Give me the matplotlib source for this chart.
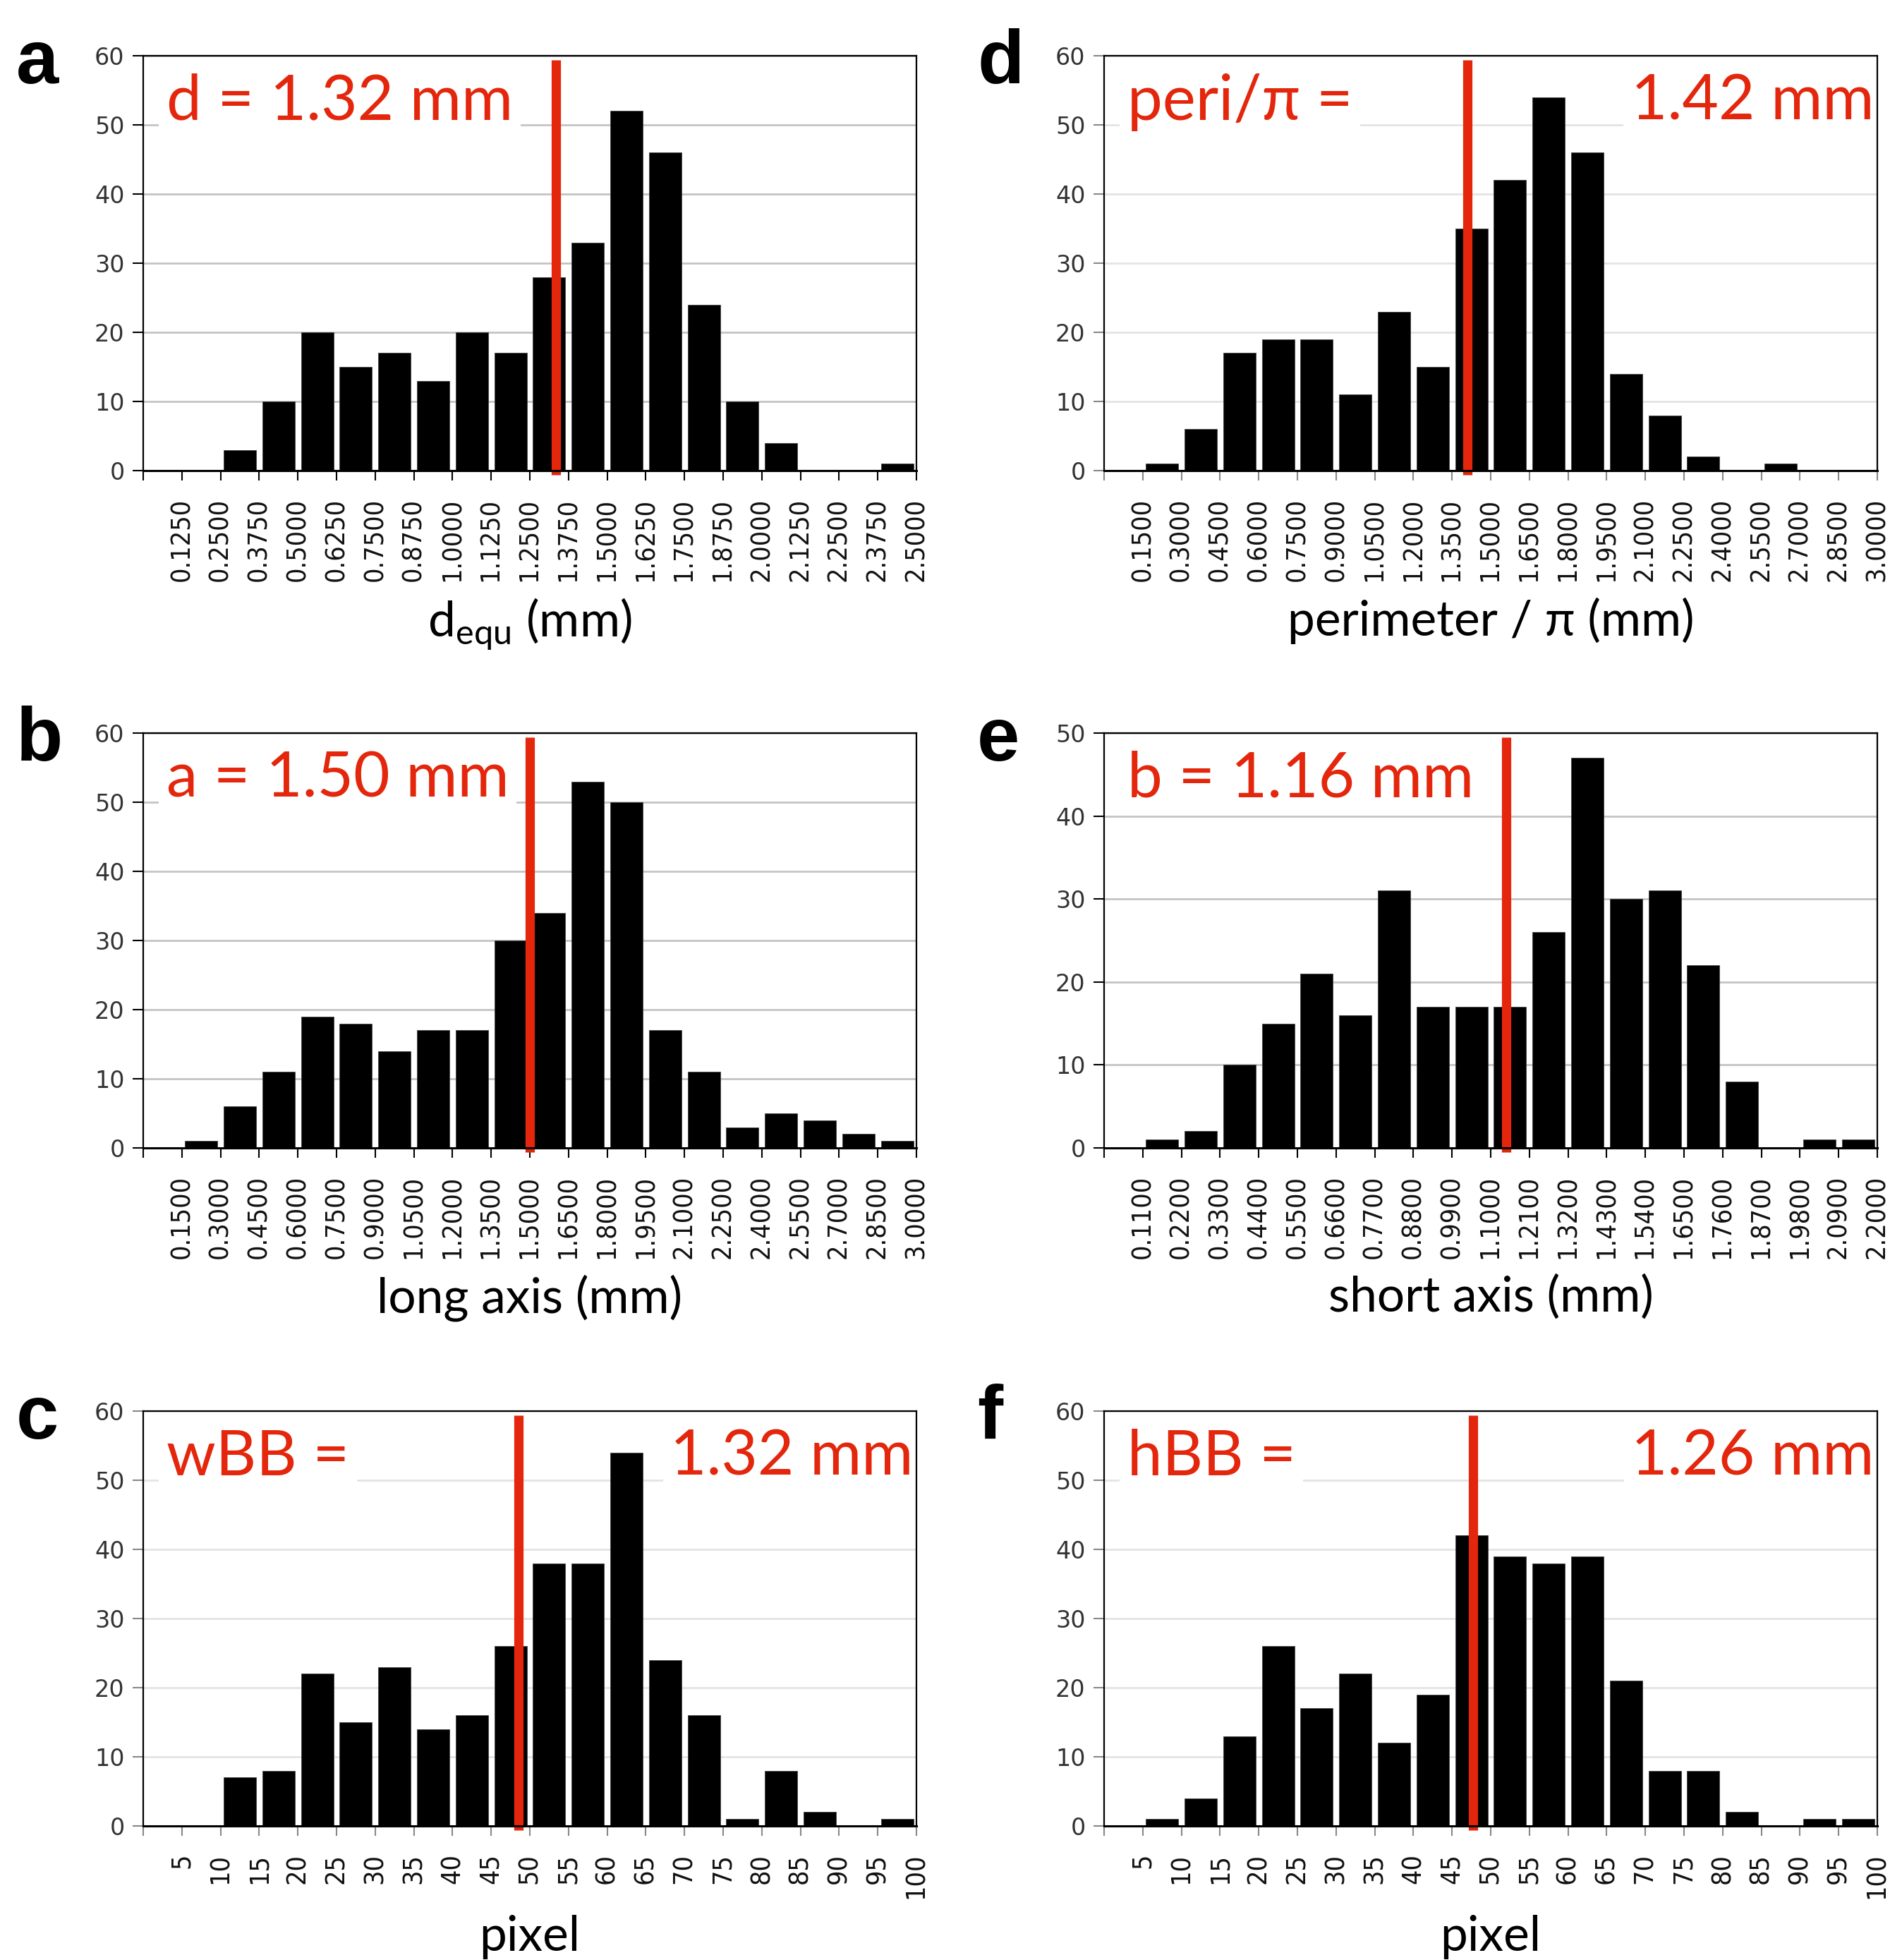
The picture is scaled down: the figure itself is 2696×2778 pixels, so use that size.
import matplotlib
matplotlib.use("Agg")
import matplotlib.pyplot as plt
import numpy as np
from matplotlib.font_manager import FontProperties

plt.rcParams["mathtext.fontset"] = "custom"
plt.rcParams["mathtext.rm"] = "Lato"

# histogram counts, 20 bins per panel
counts_a = [0, 0, 3, 10, 20, 15, 17, 13, 20, 17, 28, 33, 52, 46, 24, 10, 4, 0, 0, 1]
counts_b = [0, 1, 6, 11, 19, 18, 14, 17, 17, 30, 34, 53, 50, 17, 11, 3, 5, 4, 2, 1]
counts_c = [0, 0, 7, 8, 22, 15, 23, 14, 16, 26, 38, 38, 54, 24, 16, 1, 8, 2, 0, 1]
counts_d = [0, 1, 6, 17, 19, 19, 11, 23, 15, 35, 42, 54, 46, 14, 8, 2, 0, 1, 0, 0]
counts_e = [0, 1, 2, 10, 15, 21, 16, 31, 17, 17, 17, 26, 47, 30, 31, 22, 8, 0, 1, 1]
counts_f = [0, 1, 4, 13, 26, 17, 22, 12, 19, 42, 39, 38, 39, 21, 8, 8, 2, 0, 1, 1]

# upper bin edges (tick labels)
edges_a = ["0.1250", "0.2500", "0.3750", "0.5000", "0.6250", "0.7500", "0.8750",
           "1.0000", "1.1250", "1.2500", "1.3750", "1.5000", "1.6250", "1.7500",
           "1.8750", "2.0000", "2.1250", "2.2500", "2.3750", "2.5000"]
edges_bd = ["0.1500", "0.3000", "0.4500", "0.6000", "0.7500", "0.9000", "1.0500",
            "1.2000", "1.3500", "1.5000", "1.6500", "1.8000", "1.9500", "2.1000",
            "2.2500", "2.4000", "2.5500", "2.7000", "2.8500", "3.0000"]
edges_e = ["0.1100", "0.2200", "0.3300", "0.4400", "0.5500", "0.6600", "0.7700",
           "0.8800", "0.9900", "1.1000", "1.2100", "1.3200", "1.4300", "1.5400",
           "1.6500", "1.7600", "1.8700", "1.9800", "2.0900", "2.2000"]
edges_px = ["5", "10", "15", "20", "25", "30", "35", "40", "45", "50",
            "55", "60", "65", "70", "75", "80", "85", "90", "95", "100"]

bin_width = {"a": 0.125, "b": 0.15, "c": 5, "d": 0.15, "e": 0.11, "f": 5}
# position of the red marker line, in axis units (mm or pixel)
mean_line = {"a": 1.335, "b": 1.50, "c": 48.5, "d": 1.41, "e": 1.145, "f": 47.7}

RED = "#e3260c"
W, H = 2696, 2778
col_left = [203, 1565]
row_top = [79, 1039, 2000]
ax_w, ax_h = 1096, 588

panels = [
    ("a", counts_a, edges_a, "d = 1.32 mm", None, r"d$_{\mathrm{equ}}$ (mm)", 60, 0, 0, False),
    ("b", counts_b, edges_bd, "a = 1.50 mm", None, "long axis (mm)", 60, 0, 1, False),
    ("c", counts_c, edges_px, "wBB =", "1.32 mm", "pixel", 60, 0, 2, True),
    ("d", counts_d, edges_bd, "peri/π =", "1.42 mm", "perimeter / π (mm)", 60, 1, 0, True),
    ("e", counts_e, edges_e, "b = 1.16 mm", None, "short axis (mm)", 50, 1, 1, False),
    ("f", counts_f, edges_px, "hBB =", "1.26 mm", "pixel", 60, 1, 2, True),
]

xtick_font = FontProperties(family="DejaVu Sans", stretch="condensed", size=27)

fig = plt.figure(figsize=(W / 100, H / 100), dpi=100)

for letter, counts, edges, ltxt, rtxt, xlabel, ymax, col, row, faint in panels:
    left = col_left[col] / W
    bottom = 1 - (row_top[row] + ax_h) / H
    ax = fig.add_axes([left, bottom, ax_w / W, ax_h / H])
    grid_c = "#e4e4e4" if faint else "#c4c4c4"
    tick_c = "#888888" if faint else "black"

    x = np.arange(len(counts)) + 0.5
    ax.bar(x, counts, width=0.84, color="black", edgecolor="#444444", linewidth=0.6, zorder=2)
    ax.axvline(mean_line[letter] / bin_width[letter], ymin=-0.01, ymax=0.99,
               color=RED, lw=9.5, zorder=4, clip_on=False, solid_capstyle="butt")

    ax.set_xlim(0, len(counts))
    ax.set_ylim(0, ymax)
    ax.set_xticks(np.arange(len(counts) + 1))
    ax.set_xticklabels([""] + edges, rotation=90, fontproperties=xtick_font, color="#111111")
    ax.set_yticks(np.arange(0, ymax + 1, 10))
    ax.set_yticklabels([str(v) for v in range(0, ymax + 1, 10)], fontsize=24,
                       color="#333333", family="DejaVu Sans")
    ax.tick_params(axis="x", length=10, width=1.5, color=tick_c, pad=18)
    ax.tick_params(axis="y", length=11, width=1.5, color=tick_c, pad=8)
    ax.yaxis.grid(True, color=grid_c, lw=2, zorder=0)
    ax.set_axisbelow(True)
    for side, sp in ax.spines.items():
        sp.set_color("black")
        sp.set_linewidth(1.6)
        sp.set_zorder(6)
    ax.spines["bottom"].set_linewidth(2.2)

    box = dict(boxstyle="square,pad=0.12", facecolor="white", edgecolor="none")
    ax.text(0.03, 0.846, ltxt, transform=ax.transAxes, ha="left", va="baseline",
            family="Lato", fontsize=64, color=RED, bbox=box, zorder=5)
    if rtxt:
        ax.text(0.996, 0.846, rtxt, transform=ax.transAxes, ha="right", va="baseline",
                family="Lato", fontsize=64, color=RED, bbox=box, zorder=5)

    ax.set_xlabel(xlabel, family="Lato", fontsize=50, labelpad=16)

    fig.text((col_left[col] - 180) / W, 1 - (row_top[row] + 39) / H, letter,
             family="Liberation Sans", weight="bold", fontsize=78,
             ha="left", va="baseline")

fig.savefig("out.png", dpi=100)
